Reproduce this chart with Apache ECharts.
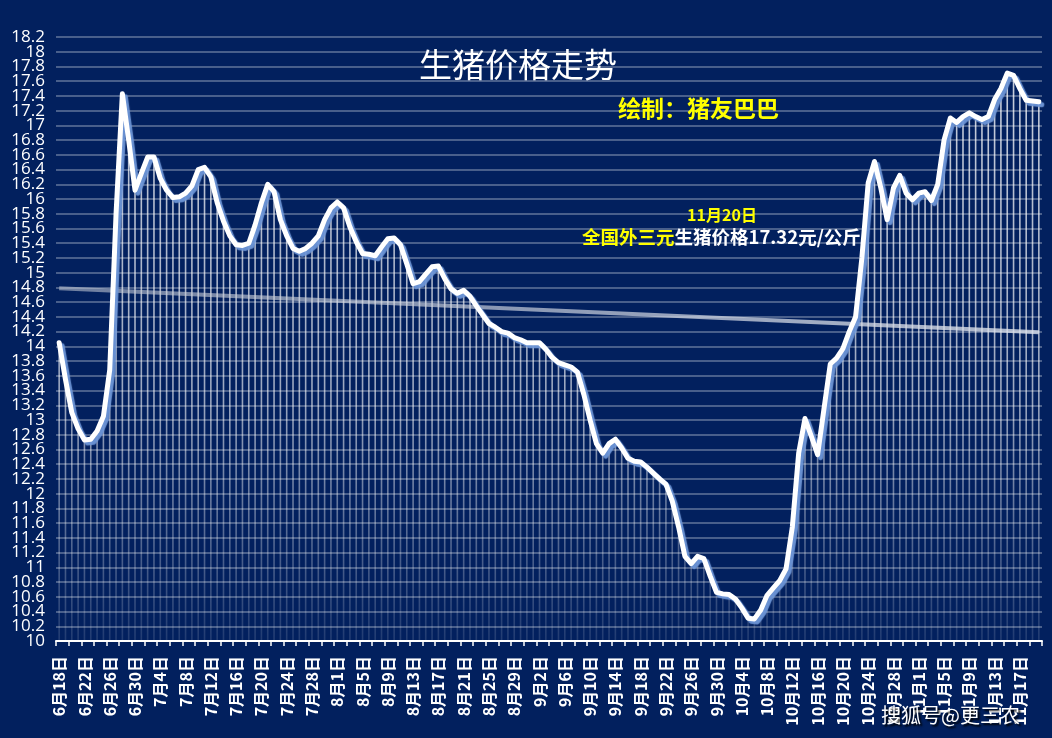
<!DOCTYPE html>
<html>
<head>
<meta charset="utf-8">
<script src="https://cdn.jsdelivr.net/npm/echarts@6/dist/echarts.min.js"></script>
<style>
html,body{margin:0;padding:0;background:#02205e;}
#c{width:1052px;height:738px;}
</style>
</head>
<body>
<div id="c"></div>
<script>
// ---- data ----
var startMonth = 6, startDay = 18;
var monthLengths = {6:30, 7:31, 8:31, 9:30, 10:31, 11:30};
var pointCount = 156; // 6月18日 .. 11月20日
var prices = [
  14.05, 13.55, 13.10, 12.88, 12.73, 12.74, 12.85, 13.05, 13.68, 15.80,
  17.43, 16.80, 16.12, 16.35, 16.57, 16.57, 16.28, 16.12, 16.02, 16.03,
  16.08, 16.18, 16.40, 16.43, 16.30, 15.95, 15.70, 15.50, 15.38, 15.37,
  15.40, 15.65, 15.95, 16.20, 16.10, 15.72, 15.50, 15.33, 15.29, 15.33,
  15.40, 15.50, 15.72, 15.88, 15.96, 15.88, 15.62, 15.42, 15.26, 15.25,
  15.23, 15.35, 15.46, 15.47, 15.38, 15.12, 14.85, 14.88, 14.98, 15.08,
  15.09, 14.92, 14.78, 14.72, 14.76, 14.68, 14.55, 14.43, 14.31, 14.26,
  14.20, 14.18, 14.12, 14.09, 14.05, 14.05, 14.05, 13.96, 13.85, 13.78,
  13.75, 13.72, 13.65, 13.35, 13.00, 12.68, 12.55, 12.68, 12.74, 12.62,
  12.48, 12.44, 12.43, 12.36, 12.28, 12.20, 12.13, 11.90, 11.55, 11.15,
  11.05, 11.15, 11.12, 10.88, 10.66, 10.64, 10.63, 10.57, 10.45, 10.31,
  10.30, 10.42, 10.62, 10.72, 10.82, 10.98, 11.55, 12.55, 13.02, 12.78,
  12.53, 13.15, 13.76, 13.84, 13.97, 14.20, 14.40, 15.20, 16.22, 16.51,
  16.15, 15.72, 16.15, 16.32, 16.08, 15.99, 16.08, 16.10, 15.98, 16.20,
  16.80, 17.10, 17.04, 17.12, 17.17, 17.12, 17.08, 17.12, 17.35, 17.50,
  17.71, 17.68, 17.50, 17.34, 17.33, 17.32
];
var trendStart = 14.79, trendEnd = 14.19;
var yMin = 10, yMax = 18.2, yStep = 0.2;
var titleText = '生猪价格走势';
var authorText = '绘制：猪友巴巴';
var noteDate = '11月20日';
var notePrefix = '全国外三元';
var noteRest = '生猪价格17.32元/公斤';
var watermark = '搜狐号@更三农';

// categories (date labels)
var categories = [];
(function(){
  var m = startMonth, d = startDay;
  for (var i = 0; i < pointCount; i++) {
    categories.push(m + '月' + d + '日');
    d++;
    if (d > monthLengths[m]) { d = 1; m++; }
  }
})();
// y tick labels, split in two alternating sets so none get hidden as overlapping
var yTicksEven = [], yTicksOdd = [];
(function(){
  var n = Math.round((yMax - yMin) / yStep);
  for (var k = 0; k <= n; k++) {
    var v = Math.round((yMin + k * yStep) * 10) / 10;
    (k % 2 === 0 ? yTicksEven : yTicksOdd).push(v);
  }
})();

var chart = echarts.init(document.getElementById('c'), null, {renderer:'canvas'});
var gridTop = 37, gridBottomY = 641;
var dropGrad = new echarts.graphic.LinearGradient(0, gridTop, 0, gridBottomY, [
  {offset:0, color:'rgba(255,255,255,0.8)'},
  {offset:0.6, color:'rgba(255,255,255,0.6)'},
  {offset:1, color:'rgba(255,255,255,0.12)'}
], true);
var cjk = '"Noto Sans CJK SC",sans-serif';
var yLabelStyle = {color:'#ffffff', fontSize:17, margin:11,
  fontFamily:'"Open Sans","Liberation Sans",sans-serif',
  formatter:function(v){ return String(Math.round(v*10)/10); }};

function yAxisCfg(ticks, main){
  return {
    type:'value', min:yMin, max:yMax, interval:yStep, position:'left',
    axisLine:{show:false}, axisTick:{show:false},
    axisLabel:Object.assign({customValues:ticks, showMinLabel:true, showMaxLabel:true}, yLabelStyle),
    splitLine:main ? {show:true, showMinLine:true, showMaxLine:true, lineStyle:{color:'rgba(255,255,255,0.38)', width:1.5}} : {show:false}
  };
}

chart.setOption({
  backgroundColor:'#02205e',
  animation:false,
  textStyle:{fontFamily:'"Liberation Sans","Noto Sans CJK SC",sans-serif'},
  grid:{left:56, right:10, top:gridTop, bottom:738-gridBottomY, containLabel:false},
  title:[
    {text:titleText, left:414, top:43, textStyle:{color:'#ffffff', fontSize:33, fontWeight:'normal', fontFamily:cjk}},
    {text:authorText, left:613, top:92, textStyle:{color:'#ffff00', fontSize:23, fontWeight:'bold', fontFamily:cjk}},
    {text:noteDate, left:717, top:202, textAlign:'center', textStyle:{color:'#ffff00', fontSize:16, fontWeight:'bold', fontFamily:cjk}},
    {text:'{a|'+notePrefix+'}{b|'+noteRest+'}', left:577, top:223, textStyle:{rich:{
      a:{color:'#ffff00', fontSize:18.5, fontWeight:'bold', fontFamily:cjk},
      b:{color:'#ffffff', fontSize:18.5, fontWeight:'bold', fontFamily:cjk}
    }}},
    {text:watermark, left:876, top:700, textStyle:{color:'#ffffff', fontSize:20, fontWeight:'normal', fontFamily:cjk, textShadowColor:'#000', textShadowBlur:2, textShadowOffsetX:2, textShadowOffsetY:2}}
  ],
  xAxis:{
    type:'category', data:categories, boundaryGap:true,
    axisLine:{lineStyle:{color:'#ffffff', width:2}},
    axisTick:{show:true, interval:1, length:5, lineStyle:{color:'#ffffff', width:1.5}},
    axisLabel:{interval:3, rotate:90, color:'#ffffff', fontSize:16, fontWeight:'bold', margin:15, fontFamily:cjk},
    splitLine:{show:false}
  },
  yAxis:[yAxisCfg(yTicksEven, true), yAxisCfg(yTicksOdd, false)],
  series:[
    {
      type:'custom', name:'drop', z:2, yAxisIndex:0,
      data:prices.map(function(v,i){return [i,v];}),
      renderItem:function(params, api){
        var top = api.coord([api.value(0), api.value(1)]);
        var bot = api.coord([api.value(0), yMin]);
        return {type:'line', shape:{x1:top[0], y1:top[1], x2:bot[0], y2:bot[1]},
          style:{stroke:dropGrad, lineWidth:1.6}};
      },
      silent:true
    },
    {
      type:'line', name:'price', data:prices, z:5, yAxisIndex:0,
      symbol:'none', smooth:false,
      lineStyle:{color:'#ffffff', width:5, cap:'round', join:'round',
        shadowColor:'rgba(110,150,215,0.95)', shadowBlur:1, shadowOffsetX:3, shadowOffsetY:3},
      markLine:{
        silent:true, symbol:['none','none'], z:3,
        label:{show:false},
        lineStyle:{type:'solid', width:4, color:new echarts.graphic.LinearGradient(0,0,1,0,[
          {offset:0,color:'rgba(200,205,215,0.55)'},{offset:1,color:'rgba(220,225,235,0.8)'}])},
        data:[[{coord:[0, trendStart]}, {coord:[pointCount-1, trendEnd]}]]
      }
    }
  ]
});
</script>
</body>
</html>
